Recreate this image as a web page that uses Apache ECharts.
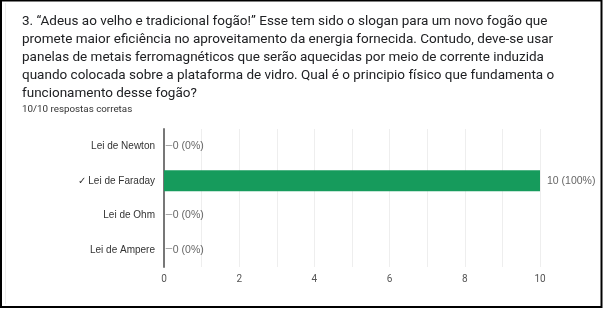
<!DOCTYPE html>
<html>
<head>
<meta charset="utf-8">
<script src="https://cdn.jsdelivr.net/npm/echarts@6/dist/echarts.min.js"></script>
<style>html,body{margin:0;padding:0;background:#fff;}#c{width:603px;height:309px;}</style>
</head>
<body>
<div id="c"></div>
<script>
var categories = ['Lei de Newton', '✓ Lei de Faraday', 'Lei de Ohm', 'Lei de Ampere'];
var counts = [0, 10, 0, 0];
var percents = ['0%', '100%', '0%', '0%'];
var xTicks = [0, 2, 4, 6, 8, 10];
var questionLines = [
  '3. “Adeus ao velho e tradicional fogão!” Esse tem sido o slogan para um novo fogão que',
  'promete maior eficiência no aproveitamento da energia fornecida. Contudo, deve-se usar',
  'panelas de metais ferromagnéticos que serão aquecidas por meio de corrente induzida',
  'quando colocada sobre a plataforma de vidro. Qual é o principio físico que fundamenta o',
  'funcionamento desse fogão?'
];
var subtitle = '10/10 respostas corretas';

var chart = echarts.init(document.getElementById('c'));
chart.setOption({
  backgroundColor: '#fff',
  animation: false,
  title: [{
    text: questionLines.join('\n'),
    left: 17, top: 8,
    textStyle: {fontFamily: 'Roboto', fontSize: 13.5, fontWeight: 'normal', color: '#202124', lineHeight: 18}
  }, {
    text: subtitle,
    left: 17, top: 100,
    textStyle: {fontFamily: 'Roboto', fontSize: 9.8, fontWeight: 'normal', color: '#333'}
  }],
  graphic: [{
    type: 'rect', shape: {x: 1, y: 0.5, width: 600.5, height: 306.5},
    style: {fill: 'none', stroke: '#000', lineWidth: 2}, silent: true
  }, {
    type: 'line', shape: {x1: 5.5, y1: 3, x2: 5.5, y2: 304},
    style: {stroke: '#eeeeee', lineWidth: 1}, silent: true
  }],
  grid: {left: 164, right: 63, top: 129, bottom: 42},
  xAxis: {
    type: 'value', min: 0, max: 10, interval: 1,
    axisLine: {show: false}, axisTick: {show: false},
    splitLine: {show: true, lineStyle: {color: '#eeeeee', width: 1}},
    axisLabel: {
      fontFamily: 'Roboto', fontSize: 10, color: '#555', margin: 7,
      formatter: function (v) { return xTicks.indexOf(v) >= 0 ? String(v) : ''; }
    }
  },
  yAxis: {
    type: 'category', data: categories, inverse: true,
    axisLine: {show: true, lineStyle: {color: '#777', width: 2}},
    axisTick: {show: false},
    axisLabel: {fontFamily: 'Liberation Sans', fontSize: 10, color: '#333', margin: 9}
  },
  series: [{
    type: 'bar', data: counts, barWidth: 21,
    itemStyle: {color: '#169b5c'},
    label: {
      show: true, position: 'right', distance: 1,
      fontFamily: 'Liberation Sans', fontSize: 10.5, color: '#666',
      formatter: function (p) {
        var t = p.value + ' (' + percents[p.dataIndex] + ')';
        return p.value === 0 ? '{d|—}' + t : '{g| }' + t;
      },
      rich: {
        d: {color: '#999', fontSize: 10, fontFamily: 'Roboto'},
        g: {width: 6}
      }
    }
  }]
});
</script>
</body>
</html>
